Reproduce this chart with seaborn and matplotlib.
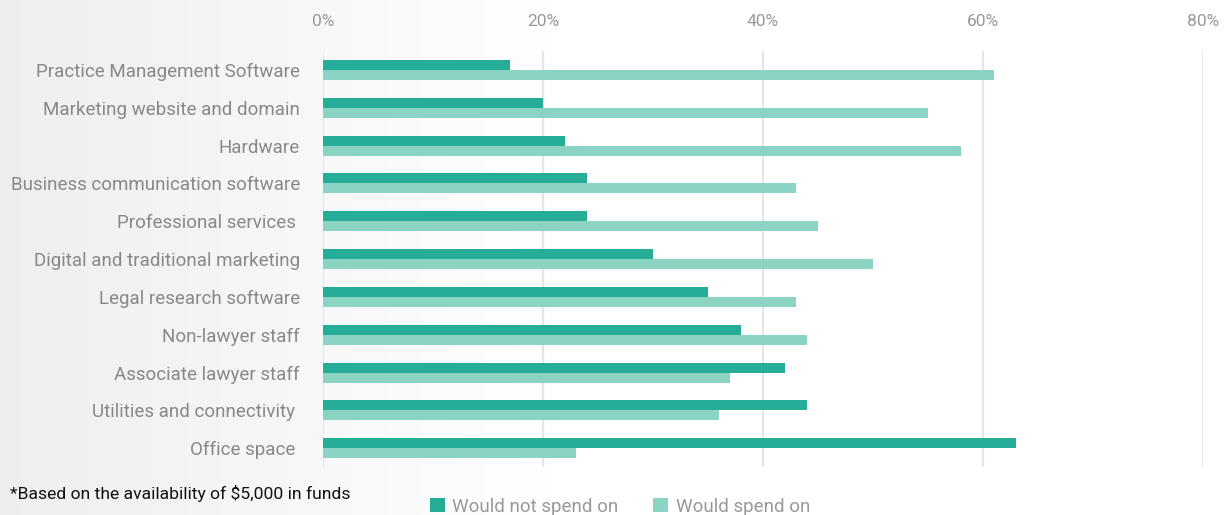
import matplotlib
matplotlib.use("Agg")
import matplotlib.pyplot as plt
import matplotlib.ticker as mticker
import numpy as np
import pandas as pd
import seaborn as sns

categories = [
    "Practice Management Software",
    "Marketing website and domain",
    "Hardware",
    "Business communication software",
    "Professional services ",
    "Digital and traditional marketing",
    "Legal research software",
    "Non-lawyer staff",
    "Associate lawyer staff",
    "Utilities and connectivity ",
    "Office space ",
]
would_not_spend = [17, 20, 22, 24, 24, 30, 35, 38, 42, 44, 63]
would_spend = [61, 55, 58, 43, 45, 50, 43, 44, 37, 36, 23]
series_names = ["Would not spend on", "Would spend on"]
x_ticks = [0, 20, 40, 60, 80]

df = pd.DataFrame({
    "category": categories * 2,
    "value": would_not_spend + would_spend,
    "series": [series_names[0]] * len(categories) + [series_names[1]] * len(categories),
})

sns.set_theme(style="white")
plt.rcParams["font.family"] = ["Roboto", "DejaVu Sans"]

fig = plt.figure(figsize=(12.28, 5.15), dpi=100)

# background gradient on left
bg = fig.add_axes([0, 0, 1, 1], zorder=-10)
grad = np.linspace(0, 1, 400)
alpha = np.clip(1 - grad / 0.45, 0, 1)
colors = np.ones((1, 400, 3))
shade = 1 - 0.065 * alpha
colors[0, :, 0] = shade
colors[0, :, 1] = shade
colors[0, :, 2] = shade
bg.imshow(colors, aspect="auto", extent=[0, 1, 0, 1])
bg.set_axis_off()

ax = fig.add_axes([0.263, 0.093, 0.9797 - 0.263, 0.808])
ax.patch.set_alpha(0)

palette = {series_names[0]: "#26AD98", series_names[1]: "#8BD3C3"}
sns.barplot(data=df, y="category", x="value", hue="series", orient="h",
            palette=palette, width=0.53, ax=ax, saturation=1, legend=True,
            linewidth=0, edgecolor="none")

ax.set_xlim(0, 80)
ax.set_xticks(x_ticks)
ax.xaxis.set_major_formatter(mticker.FuncFormatter(lambda v, p: f"{int(v)}%"))
ax.xaxis.tick_top()
ax.tick_params(axis="x", length=0, pad=16, labelsize=12.5, labelcolor="#999999")
ax.tick_params(axis="y", length=0, pad=16.5, labelsize=13.5, labelcolor="#888888")
ax.set_xlabel("")
ax.set_ylabel("")
ax.grid(axis="x", color="#e6e6e6", linewidth=1.5)
ax.set_axisbelow(True)
for s in ax.spines.values():
    s.set_visible(False)

handles, labels = ax.get_legend_handles_labels()
ax.legend_.remove()
leg = fig.legend(handles, labels, loc="center", bbox_to_anchor=(0.505, 0.016),
                 ncol=2, frameon=False, fontsize=13.5, handlelength=0.8,
                 handleheight=0.8, handletextpad=0.4, columnspacing=1.85)
for t in leg.get_texts():
    t.set_color("#999999")

fig.text(0.008, 0.041, "*Based on the availability of $5,000 in funds",
         fontsize=12.6, color="#111111", va="center", ha="left")

fig.savefig("out.png", dpi=100)
